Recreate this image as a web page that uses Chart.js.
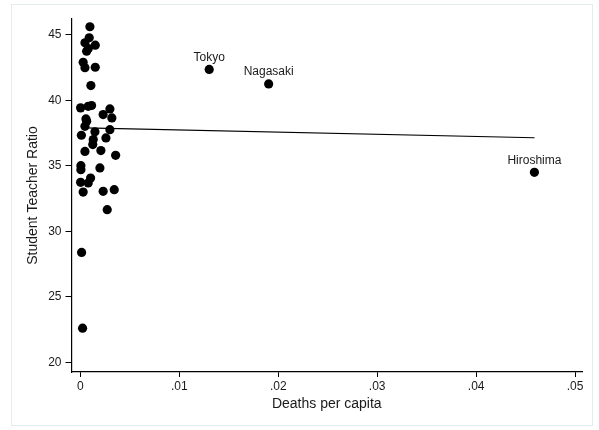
<!DOCTYPE html>
<html>
<head>
<meta charset="utf-8">
<script src="https://cdn.jsdelivr.net/npm/chart.js@4.4.0/dist/chart.umd.min.js"></script>
<style>
  html, body { margin: 0; padding: 0; background: #fff; }
  #wrap { position: relative; width: 599px; height: 430px; }
  #frame { position: absolute; left: 11px; top: 4px; width: 582px; height: 422px; border: 1px solid #e4eded; box-sizing: border-box; }
  #scatter { position: absolute; left: 0; top: 0; }
</style>
</head>
<body>
<div id="wrap">
  <div id="frame"></div>
  <canvas id="scatter" width="599" height="430"></canvas>
</div>
<script>
// prefecture values
const deathsPerCapita = [
  0.00096, 0.00089, 0.00046, 0.0015, 0.0008, 0.00063, 0.00028, 0.00046, 0.0015, 0.00106,
  0.00002, 0.00079, 0.00113, 0.00298, 0.0023, 0.00318, 0.00056, 0.00063, 0.00046, 0.00298,
  0.00147, 0.0001, 0.0013, 0.00258, 0.00125, 0.00046, 0.00207, 0.00356, 0.00005, 0.00005,
  0.00197, 0.00103, 0.00002, 0.00079, 0.00028, 0.0023, 0.00342, 0.00271, 0.00012, 0.00022,
  0.01302, 0.01903, 0.04589
];
const studentTeacherRatio = [
  45.61, 44.77, 44.39, 44.2, 43.95, 43.74, 42.9, 42.48, 42.52, 41.12,
  39.42, 39.54, 39.6, 39.34, 38.91, 38.65, 38.58, 38.4, 38.01, 37.76,
  37.59, 37.33, 37.0, 37.13, 36.62, 36.1, 36.16, 35.8, 35.01, 34.7,
  34.84, 34.07, 33.74, 33.69, 33.0, 33.05, 33.18, 31.65, 28.39, 22.61,
  42.35, 41.25, 34.5
];
const pointNames = [
  '', '', '', '', '', '', '', '', '', '',
  '', '', '', '', '', '', '', '', '', '',
  '', '', '', '', '', '', '', '', '', '',
  '', '', '', '', '', '', '', '', '', '',
  'Tokyo', 'Nagasaki', 'Hiroshima'
];

// fitted line endpoints
const fitX = [0.00045, 0.0459];
const fitY = [37.9, 37.14];

const xTickValues = [0, 0.01, 0.02, 0.03, 0.04, 0.05];
const xTickLabels = ['0', '.01', '.02', '.03', '.04', '.05'];
const yTickValues = [20, 25, 30, 35, 40, 45];
const yTickLabels = ['20', '25', '30', '35', '40', '45'];

const fontFamily = '"Liberation Sans", Arial, sans-serif';
const textColor = '#1a1a1a';

const scatterPoints = deathsPerCapita.map((x, i) => ({ x: x, y: studentTeacherRatio[i] }));
const fitPoints = fitX.map((x, i) => ({ x: x, y: fitY[i] }));

// names drawn just above their markers
const pointLabels = {
  id: 'pointLabels',
  afterDatasetsDraw(chart) {
    const meta = chart.getDatasetMeta(0);
    const ctx = chart.ctx;
    ctx.save();
    ctx.font = '12px ' + fontFamily;
    ctx.fillStyle = textColor;
    ctx.textAlign = 'center';
    ctx.textBaseline = 'middle';
    meta.data.forEach((pt, i) => {
      if (pointNames[i]) ctx.fillText(pointNames[i], pt.x, pt.y - 12);
    });
    ctx.restore();
  }
};

new Chart(document.getElementById('scatter').getContext('2d'), {
  type: 'scatter',
  data: {
    datasets: [
      {
        data: scatterPoints,
        backgroundColor: '#000',
        borderColor: '#000',
        pointRadius: 4.6,
        pointHoverRadius: 4.6,
        borderWidth: 0
      },
      {
        type: 'line',
        data: fitPoints,
        borderColor: '#000',
        borderWidth: 1.2,
        pointRadius: 0,
        fill: false
      }
    ]
  },
  options: {
    responsive: false,
    animation: false,
    events: [],
    layout: { padding: { top: 19, right: 17, left: 0, bottom: 0 } },
    plugins: {
      legend: { display: false },
      tooltip: { enabled: false }
    },
    scales: {
      x: {
        type: 'linear',
        min: -0.0009,
        max: 0.0507,
        afterBuildTicks: (scale) => { scale.ticks = xTickValues.map(v => ({ value: v })); },
        afterFit: (scale) => { scale.height = 58; },
        ticks: {
          padding: 2,
          color: textColor,
          font: { family: fontFamily, size: 12 },
          callback: (v, i) => xTickLabels[i]
        },
        grid: { drawOnChartArea: false, drawTicks: true, tickLength: 5, color: '#000' },
        border: { display: true, color: '#000', width: 1.2 },
        title: {
          display: true,
          text: 'Deaths per capita',
          color: textColor,
          font: { family: fontFamily, size: 14 },
          padding: { top: 0, bottom: 17.6 }
        }
      },
      y: {
        type: 'linear',
        min: 19.27,
        max: 46.2,
        afterBuildTicks: (scale) => { scale.ticks = yTickValues.map(v => ({ value: v })); },
        afterFit: (scale) => { scale.width = 71.5; },
        ticks: {
          padding: 4,
          color: textColor,
          font: { family: fontFamily, size: 12 },
          callback: (v, i) => yTickLabels[i]
        },
        grid: { drawOnChartArea: false, drawTicks: true, tickLength: 6, color: '#000' },
        border: { display: true, color: '#000', width: 1.2 },
        title: {
          display: true,
          text: 'Student Teacher Ratio',
          color: textColor,
          font: { family: fontFamily, size: 14 },
          padding: { top: 24.6, bottom: 0 }
        }
      }
    }
  },
  plugins: [pointLabels]
});
</script>
</body>
</html>
